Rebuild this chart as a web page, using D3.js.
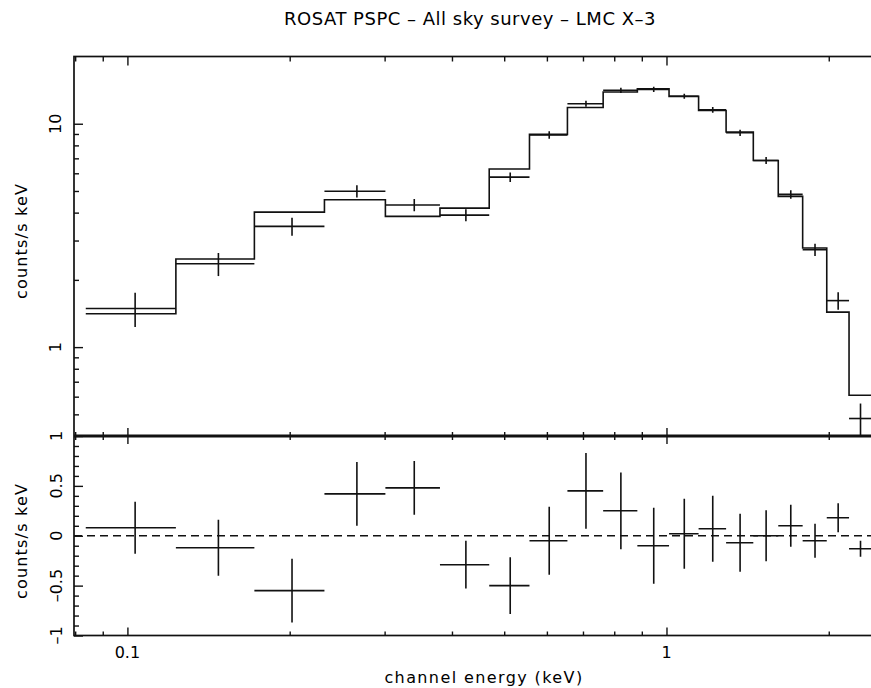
<!DOCTYPE html>
<html>
<head>
<meta charset="utf-8">
<script src="https://cdn.jsdelivr.net/npm/d3@7"></script>
<style>
  html, body { margin: 0; padding: 0; background: #fff; }
  svg { display: block; }
  text { font-family: "DejaVu Sans", sans-serif; fill: #000; }
</style>
</head>
<body>
<script>
// Channel energy bin edges (keV)
const edges = [0.0837, 0.123, 0.172, 0.232, 0.301, 0.380, 0.469, 0.557, 0.655, 0.763,
               0.883, 1.011, 1.147, 1.290, 1.449, 1.612, 1.789, 1.983, 2.181, 2.400];
// Folded model (counts/s/keV) per channel
const model = [1.41, 2.48, 4.02, 4.57, 3.85, 4.19, 6.27, 8.96, 11.83, 13.87,
               14.35, 13.26, 11.47, 9.18, 6.85, 4.73, 2.78, 1.435, 0.609];
// Observed count rate (counts/s/keV) per channel
const rate = [1.49, 2.36, 3.47, 4.99, 4.33, 3.90, 5.77, 8.91, 12.28, 14.12,
              14.25, 13.28, 11.54, 9.11, 6.85, 4.83, 2.73, 1.615, 0.479];
// 1-sigma uncertainty of the observed rate
const sigma = [0.26, 0.28, 0.32, 0.32, 0.27, 0.24, 0.285, 0.34, 0.38, 0.385,
               0.38, 0.35, 0.33, 0.29, 0.255, 0.21, 0.17, 0.145, 0.08];
// Residuals: data minus model
const resid = [0.08, -0.12, -0.55, 0.42, 0.48, -0.29, -0.50, -0.05, 0.45, 0.25,
               -0.10, 0.02, 0.07, -0.07, 0.00, 0.10, -0.05, 0.18, -0.13];

// Axis tick values
const xMajor = [0.1, 1];
const xMinor = [0.08, 0.09, 0.2, 0.3, 0.4, 0.5, 0.6, 0.7, 0.8, 0.9, 2];
const yTopMajor = [1, 10];
const yTopMinor = [0.5, 0.6, 0.7, 0.8, 0.9, 2, 3, 4, 5, 6, 7, 8, 9];
const yTopLabels = ["1", "10"];
const yBotMajor = [-1, -0.5, 0, 0.5, 1];
const yBotMinor = [-0.9, -0.8, -0.7, -0.6, -0.4, -0.3, -0.2, -0.1,
                   0.1, 0.2, 0.3, 0.4, 0.6, 0.7, 0.8, 0.9];
const yBotLabels = ["–1", "–0.5", "0", "0.5", "1"];
const xLabels = ["0.1", "1"];

const W = 871, H = 688;
const L = 74, R = 881, T = 56.5, MID = 436, B = 635.5;

const svg = d3.select("body").append("svg").attr("width", W).attr("height", H);
svg.append("rect").attr("width", W).attr("height", H).attr("fill", "#fff");

const x = d3.scaleLog().domain([0.0796, 2.5]).range([L, R]);
const yTop = d3.scaleLog().domain([0.4, 20]).range([MID, T]);
const yBot = d3.scaleLinear().domain([-1, 1]).range([B, MID]);

const defs = svg.append("defs");
defs.append("clipPath").attr("id", "clipTop")
  .append("rect").attr("x", L).attr("y", T).attr("width", R - L).attr("height", MID - T);
defs.append("clipPath").attr("id", "clipBot")
  .append("rect").attr("x", L).attr("y", MID).attr("width", R - L).attr("height", B - MID);

const ink = "#111";

function drawAxis(axis, tx, ty) {
  const g = svg.append("g").attr("transform", `translate(${tx},${ty})`).call(axis);
  g.select(".domain").remove();
  g.selectAll(".tick line").attr("stroke", ink).attr("stroke-width", 1.4);
  g.selectAll(".tick text").remove();
  return g;
}

// x ticks: top frame, panel divider (both sides), bottom frame
drawAxis(d3.axisBottom(x).tickValues(xMajor).tickSize(9), 0, T);
drawAxis(d3.axisBottom(x).tickValues(xMinor).tickSize(5), 0, T);
drawAxis(d3.axisTop(x).tickValues(xMajor).tickSize(8), 0, MID);
drawAxis(d3.axisTop(x).tickValues(xMinor).tickSize(4), 0, MID);
drawAxis(d3.axisBottom(x).tickValues(xMajor).tickSize(8), 0, MID);
drawAxis(d3.axisBottom(x).tickValues(xMinor).tickSize(4), 0, MID);
drawAxis(d3.axisTop(x).tickValues(xMajor).tickSize(8), 0, B);
drawAxis(d3.axisTop(x).tickValues(xMinor).tickSize(4), 0, B);

// y ticks
drawAxis(d3.axisRight(yTop).tickValues(yTopMajor).tickSize(9), L, 0);
drawAxis(d3.axisRight(yTop).tickValues(yTopMinor).tickSize(5), L, 0);
drawAxis(d3.axisRight(yBot).tickValues(yBotMajor).tickSize(9), L, 0);
drawAxis(d3.axisRight(yBot).tickValues(yBotMinor).tickSize(5), L, 0);

// Frames
svg.append("rect").attr("x", L).attr("y", T).attr("width", R - L).attr("height", B - T)
  .attr("fill", "none").attr("stroke", ink).attr("stroke-width", 1.7);
svg.append("line").attr("x1", L).attr("x2", R).attr("y1", MID).attr("y2", MID)
  .attr("stroke", ink).attr("stroke-width", 3);

// Tick labels
svg.append("g").selectAll("text").data(xMajor).join("text")
  .attr("x", d => x(d)).attr("y", 658)
  .attr("text-anchor", "middle").attr("font-size", 16)
  .text((d, i) => xLabels[i]);

svg.append("g").selectAll("text").data(yTopMajor).join("text")
  .attr("transform", d => `translate(61,${yTop(d)}) rotate(-90)`)
  .attr("text-anchor", "middle").attr("font-size", 16)
  .text((d, i) => yTopLabels[i]);

svg.append("g").selectAll("text").data(yBotMajor).join("text")
  .attr("transform", d => `translate(62,${yBot(d)}) rotate(-90)`)
  .attr("text-anchor", "middle").attr("font-size", 16)
  .text((d, i) => yBotLabels[i]);

// Titles
svg.append("text").attr("x", 470).attr("y", 25).attr("text-anchor", "middle")
  .attr("font-size", 18).attr("letter-spacing", 0.5)
  .text("ROSAT PSPC – All sky survey – LMC X–3");
svg.append("text").attr("x", 484).attr("y", 683).attr("text-anchor", "middle")
  .attr("font-size", 16).attr("letter-spacing", 1.4)
  .text("channel energy (keV)");
[241, 541].forEach(cy => {
  svg.append("text").attr("transform", `translate(27,${cy}) rotate(-90)`)
    .attr("text-anchor", "middle").attr("font-size", 16).attr("letter-spacing", 1.2)
    .text("counts/s keV");
});

// Top panel: model as a step histogram
const bins = model.map((m, i) => ({
  lo: edges[i], hi: edges[i + 1], mid: (edges[i] + edges[i + 1]) / 2,
  model: m, rate: rate[i], err: sigma[i], resid: resid[i]
}));

const stepPts = bins.map(b => [b.lo, b.model]).concat([[edges[edges.length - 1], model[model.length - 1]]]);
const spectrumLayer = svg.append("g").attr("clip-path", "url(#clipTop)");
spectrumLayer.append("path")
  .attr("d", d3.line().x(d => x(d[0])).y(d => yTop(d[1])).curve(d3.curveStepAfter)(stepPts))
  .attr("fill", "none").attr("stroke", ink).attr("stroke-width", 1.6);

// Top panel: data crosses
const cross = spectrumLayer.selectAll("g.pt").data(bins).join("g").attr("class", "pt")
  .attr("stroke", ink).attr("stroke-width", 1.6);
cross.append("line")
  .attr("x1", d => x(d.lo)).attr("x2", d => x(d.hi))
  .attr("y1", d => yTop(d.rate)).attr("y2", d => yTop(d.rate));
cross.append("line")
  .attr("x1", d => x(d.mid)).attr("x2", d => x(d.mid))
  .attr("y1", d => yTop(Math.max(d.rate - d.err, 0.05))).attr("y2", d => yTop(d.rate + d.err));

// Bottom panel: zero line and residual crosses
const residLayer = svg.append("g").attr("clip-path", "url(#clipBot)");
residLayer.append("line").attr("x1", L).attr("x2", R).attr("y1", yBot(0)).attr("y2", yBot(0))
  .attr("stroke", ink).attr("stroke-width", 1.4).attr("stroke-dasharray", "8,5");
const rc = residLayer.selectAll("g.rs").data(bins).join("g").attr("class", "rs")
  .attr("stroke", ink).attr("stroke-width", 1.6);
rc.append("line")
  .attr("x1", d => x(d.lo)).attr("x2", d => x(d.hi))
  .attr("y1", d => yBot(d.resid)).attr("y2", d => yBot(d.resid));
rc.append("line")
  .attr("x1", d => x(d.mid)).attr("x2", d => x(d.mid))
  .attr("y1", d => yBot(d.resid - d.err)).attr("y2", d => yBot(d.resid + d.err));
</script>
</body>
</html>
